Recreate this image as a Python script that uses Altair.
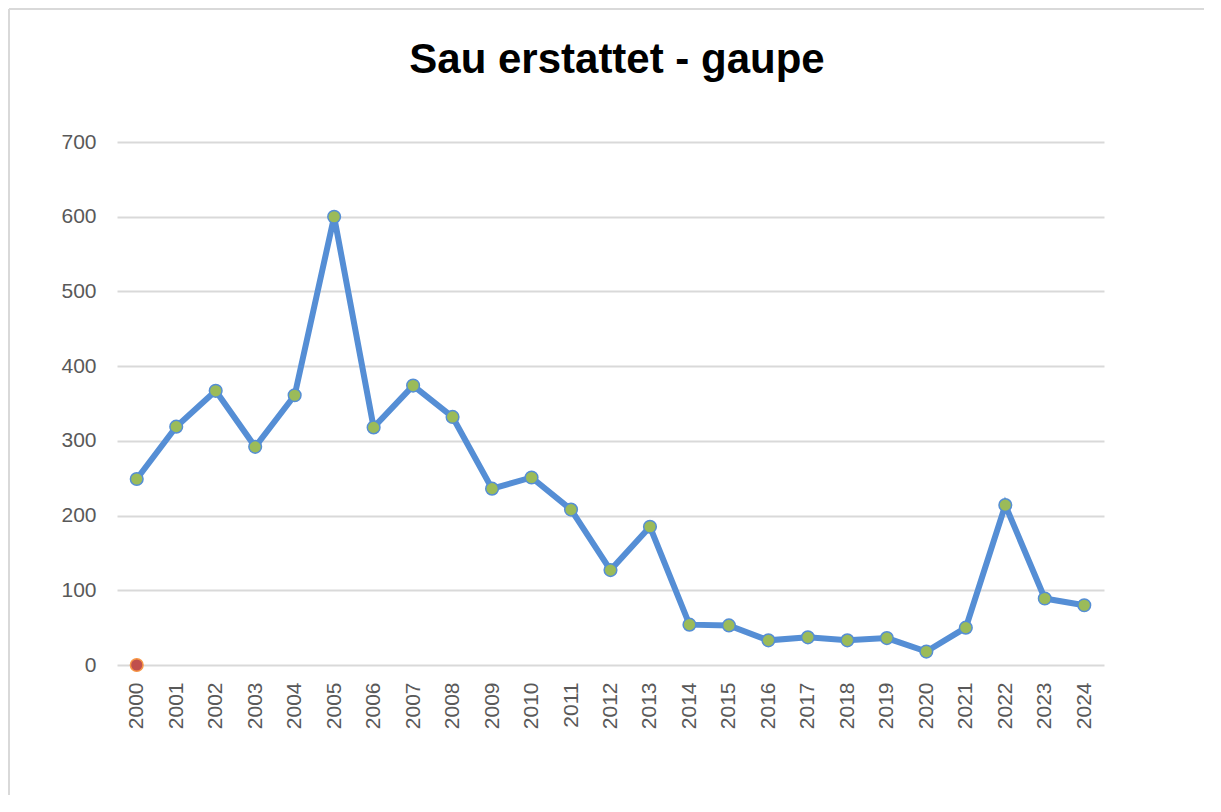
import altair as alt
import pandas as pd

years = [str(y) for y in range(2000, 2025)]
values = [249, 319, 367, 292, 361, 600, 318, 374, 332, 236, 251, 208, 127,
          185, 54, 53, 33, 37, 33, 36, 18, 50, 214, 89, 80]
second_years = ["2000"]
second_values = [0]
y_ticks = [0, 100, 200, 300, 400, 500, 600, 700]
title_text = "Sau erstattet - gaupe"

df = pd.DataFrame({"year": years, "value": values})
df2 = pd.DataFrame({"year": second_years, "value": second_values})

W, H = 987, 523

x_enc = alt.X("year:O", sort=years,
              scale=alt.Scale(type="point", padding=0.5),
              axis=alt.Axis(title=None, labelAngle=-90, labelAlign="right",
                            labelBaseline="middle", labelPadding=17,
                            labelFontSize=21, labelColor="#595959",
                            labelFont="Liberation Sans", ticks=False,
                            domain=False, grid=False))
y_enc = alt.Y("value:Q",
              scale=alt.Scale(domain=[0, 700], nice=False),
              axis=alt.Axis(title=None, values=y_ticks, labelFontSize=21,
                            labelColor="#595959", labelFont="Liberation Sans",
                            labelPadding=21, ticks=False, domain=False,
                            grid=True, gridColor="#d9d9d9", gridWidth=2))

base = alt.Chart(df)
line = base.mark_line(color="#558ed5", strokeWidth=6).encode(x=x_enc, y=y_enc)
pts = base.mark_point(filled=True, fill="#9bbb59", stroke="#558ed5",
                      strokeWidth=1.5, size=160, opacity=1).encode(x=x_enc, y=y_enc)
red = alt.Chart(df2).mark_point(filled=True, fill="#c0504d", stroke="#f79646",
                                strokeWidth=1.5, size=160, opacity=1).encode(x=x_enc, y=y_enc)

frame_data = alt.Data(values=[{"a": 1}])
top_line = alt.Chart(frame_data).mark_rule(color="#d9d9d9", strokeWidth=2).encode(
    x=alt.value(-108), x2=alt.value(1100), y=alt.value(-133))
left_line = alt.Chart(frame_data).mark_rule(color="#d9d9d9", strokeWidth=2).encode(
    x=alt.value(-108), y=alt.value(-133), y2=alt.value(660))

title_data = alt.Data(values=[{"t": title_text}])
title = alt.Chart(title_data).mark_text(
    font="Liberation Sans", fontSize=42, fontWeight="bold", color="#000000",
    align="center", baseline="alphabetic").encode(
    text="t:N", x=alt.value(500), y=alt.value(-69))

chart = alt.layer(top_line, left_line, line, pts, red, title).properties(
    width=W, height=H,
    background="white",
    autosize=alt.AutoSizeParams(type="none"),
    padding={"left": 109, "top": 134, "right": 100, "bottom": 130},
).configure_view(strokeWidth=0, stroke="transparent")

chart.save("out.html", embed_options={"renderer": "svg", "actions": False})
